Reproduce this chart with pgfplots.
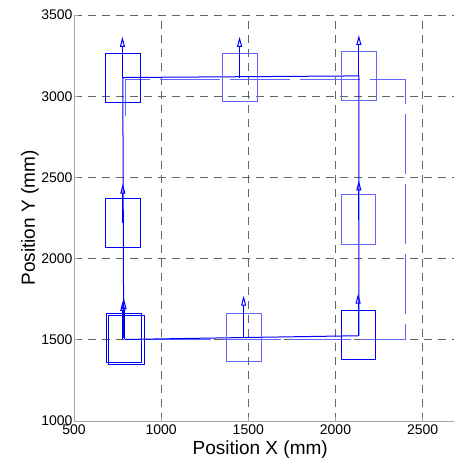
\documentclass[border=0pt]{standalone}
\usepackage{pgfplots}
\pgfplotsset{compat=1.18}
\usepackage{fontspec}
\setmainfont{Liberation Sans}
\usetikzlibrary{arrows.meta}
\definecolor{mb}{RGB}{0,0,255}
\definecolor{mbl}{RGB}{100,100,255}

\begin{document}
\begin{tikzpicture}
\begin{axis}[
    scale only axis, width=380pt, height=406pt,
    xmin=500, xmax=2680, ymin=1000, ymax=3500,
    axis x line*=bottom, axis y line*=left,
    axis line style={gray!70, line width=0.8pt},
    xtick={500,1000,...,2500}, ytick={1000,1500,...,3500},
    /pgf/number format/assume math mode=true,
    /pgf/number format/1000 sep={},
    tick label style={font=\fontsize{14}{14}\selectfont},
    yticklabel style={xshift=2pt},
    tick align=inside, major tick length=4pt,
    tick style={gray!70, line width=0.8pt},
    grid=major,
    major grid style={black!60, line width=0.9pt, dash pattern=on 8pt off 6pt},
    xlabel={Position X  (mm)}, ylabel={Position Y  (mm)},
    every axis x label/.style={at={(axis description cs:0.49,-0.0714)}, anchor=center,
        font=\fontsize{19}{19}\selectfont},
    every axis y label/.style={at={(axis description cs:-0.1158,0.5)}, rotate=90, anchor=center,
        font=\fontsize{19}{19}\selectfont},
    clip=false,
]
% trajectory (estimated)
\addplot[mbl, line width=1pt, dash pattern=on 60pt off 10pt] coordinates {
    (795,2880) (795,3100) (2400,3100) (2400,1500) (795,1500)
};
% trajectory (odometry)
\addplot[mb, line width=1pt] coordinates {
    (785,1510) (780,3115) (2134,3125) (2134,1525) (1480,1514) (790,1502)
};
% landmark boxes
\pgfplotsset{lmbox/.style={mb, line width=1pt}, lmboxl/.style={mbl, line width=1pt}}
\addplot[lmbox] coordinates {(680,2960) (880,2960) (880,3265) (680,3265) (680,2960)};
\addplot[lmboxl] coordinates {(1350,2965) (1550,2965) (1550,3265) (1350,3265) (1350,2965)};
\addplot[lmboxl] coordinates {(2033,2975) (2236,2975) (2236,3278) (2033,3278) (2033,2975)};
\addplot[lmbox] coordinates {(680,2070) (883,2070) (883,2370) (680,2370) (680,2070)};
\addplot[lmboxl] coordinates {(2033,2087) (2232,2087) (2232,2393) (2033,2393) (2033,2087)};
\addplot[lmbox] coordinates {(684,1360) (889,1360) (889,1659) (684,1659) (684,1360)};
\addplot[lmbox] coordinates {(697,1346) (902,1346) (902,1648) (697,1648) (697,1346)};
\addplot[lmboxl] coordinates {(1377,1364) (1578,1364) (1578,1665) (1377,1665) (1377,1364)};
\addplot[lmbox] coordinates {(2033,1377) (2230,1377) (2230,1679) (2033,1679) (2033,1377)};
% heading arrows
\pgfplotsset{headarrow/.style={mb, line width=1pt, -{Triangle[open, length=10pt, width=5pt]}}}
\addplot[headarrow] coordinates {(778,3112) (778,3366)};
\addplot[headarrow] coordinates {(1450,3115) (1450,3366)};
\addplot[headarrow] coordinates {(2134,3126) (2134,3377)};
\addplot[headarrow] coordinates {(780,2220) (780,2461)};
\addplot[headarrow] coordinates {(2134,2240) (2134,2481)};
\addplot[headarrow] coordinates {(787,1505) (787,1751)};
\addplot[headarrow] coordinates {(780,1500) (780,1740)};
\addplot[headarrow] coordinates {(1473,1515) (1473,1772)};
\addplot[headarrow] coordinates {(2130,1528) (2130,1784)};
\end{axis}
\path (current axis.south west) ++(-74pt,-42pt) rectangle (current axis.north east) ++(0pt,15pt);
\end{tikzpicture}
\end{document}
